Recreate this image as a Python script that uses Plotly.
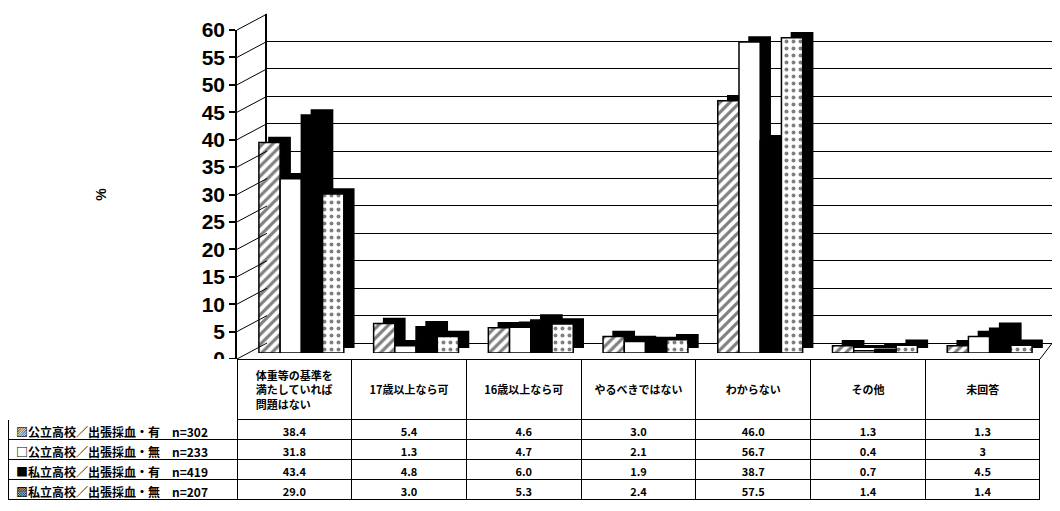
import plotly.graph_objects as go

# ---------------- data ----------------
categories = [
    "体重等の基準を<br>満たしていれば<br>問題はない",
    "17歳以上なら可",
    "16歳以上なら可",
    "やるべきではない",
    "わからない",
    "その他",
    "未回答",
]
series_names = [
    "公立高校／出張採血・有　n=302",
    "公立高校／出張採血・無　n=233",
    "私立高校／出張採血・有　n=419",
    "私立高校／出張採血・無　n=207",
]
legend_marks = ["▨", "□", "■", "▩"]
pub_yes = [38.4, 5.4, 4.6, 3.0, 46.0, 1.3, 1.3]
pub_no = [31.8, 1.3, 4.7, 2.1, 56.7, 0.4, 3]
pri_yes = [43.4, 4.8, 6.0, 1.9, 38.7, 0.7, 4.5]
pri_no = [29.0, 3.0, 5.3, 2.4, 57.5, 1.4, 1.4]
y_ticks = list(range(0, 61, 5))

series = [pub_yes, pub_no, pri_yes, pri_no]

# ---------------- geometry helpers ----------------
# the page body keeps the browser's default 8px margin, so the figure is
# sized to the remaining viewport and screen positions are converted.
VIEW_W, VIEW_H = 1060, 511
OFF = 8
W, H = VIEW_W - OFF, VIEW_H - OFF
YMAX = 60


def px(a):
    return (a - OFF) / W


def py(b):
    return (H - (b - OFF)) / H


def xd(a, b):
    return [max(px(a), 0.0), min(px(b), 1.0)]


def yd(bottom_px, top_px):
    return [max(py(bottom_px), 0.0), min(py(top_px), 1.0)]


front_x, front_y = (237, 1040), (359, 30)
bars_x, bars_y = (244, 1047), (353, 24)
shad_x, shad_y = (254, 1057), (348, 19)
back_x, back_y = (267, 1060), (343, 14)

styles = [
    dict(color="white", pattern=dict(shape="/", fgcolor="black", bgcolor="white", size=7, solidity=0.45)),
    dict(color="white"),
    dict(color="black"),
    dict(color="white", pattern=dict(shape=".", fgcolor="black", bgcolor="white", size=7, solidity=0.25)),
]

fig = go.Figure()

# back wall (gridlines) - subplot xy
fig.add_trace(go.Scatter(x=categories, y=[None] * len(categories), xaxis="x", yaxis="y",
                         showlegend=False, hoverinfo="skip"))

# bar depth (shadow) - subplot x2y2
for name, vals in zip(series_names, series):
    fig.add_trace(go.Bar(x=categories, y=vals, xaxis="x2", yaxis="y2", name=name,
                         marker=dict(color="black", line=dict(color="black", width=1.5)),
                         showlegend=False, hoverinfo="skip"))

# bar fronts - subplot x3y3
for name, vals, st in zip(series_names, series, styles):
    fig.add_trace(go.Bar(x=categories, y=vals, xaxis="x3", yaxis="y3", name=name,
                         marker=dict(line=dict(color="black", width=1.5), **st),
                         showlegend=False))

# front frame with ticks - subplot x4y4
fig.add_trace(go.Scatter(x=categories, y=[None] * len(categories), xaxis="x4", yaxis="y4",
                         showlegend=False, hoverinfo="skip"))


def fmt(v):
    return str(v) if isinstance(v, int) else f"{v:.1f}"


row_heads = [f"{m}{n}" for m, n in zip(legend_marks, series_names)]
header_labels = [""] + [c if "<br>" in c else "\u00a0<br>" + c for c in categories]
cell_cols = [row_heads] + [[fmt(s[i]) for s in series] for i in range(len(categories))]

fig.add_trace(go.Table(
    domain=dict(x=xd(0, front_x[1]), y=yd(506, front_y[0])),
    columnwidth=[front_x[0] - OFF] + [(front_x[1] - front_x[0]) / 7] * 7,
    header=dict(values=header_labels,
                align=["left"] + ["center"] * 7,
                height=58,
                fill_color="white",
                line=dict(color=["white"] + ["black"] * 7, width=1),
                font=dict(family="Noto Sans CJK JP", size=11, color="black", weight="bold")),
    cells=dict(values=cell_cols,
               align=["left"] + ["center"] * 7,
               height=20,
               fill_color="white",
               line=dict(color="black", width=1),
               font=dict(family="Noto Sans CJK JP", size=[12] + [11] * 7, color="black", weight="bold")),
))

common_x = dict(type="category", showticklabels=False, ticks="", showgrid=False, zeroline=False,
                automargin=False)
common_y = dict(range=[0, YMAX], zeroline=False, automargin=False)

shapes = []
# slanted side-wall lines joining front ticks to back wall
for v in y_ticks:
    yf = py(front_y[0] - (front_y[0] - front_y[1]) * v / YMAX)
    yb = py(back_y[0] - (back_y[0] - back_y[1]) * v / YMAX)
    shapes.append(dict(type="line", xref="paper", yref="paper",
                       x0=px(front_x[0]), y0=yf, x1=px(back_x[0]), y1=yb,
                       line=dict(color="black", width=1)))
# floor right edge
shapes.append(dict(type="line", xref="paper", yref="paper",
                   x0=px(front_x[1]), y0=py(front_y[0]), x1=1.0, y1=py(back_y[0] - 10),
                   line=dict(color="black", width=1)))

fig.update_layout(
    width=W, height=H,
    margin=dict(l=0, r=0, t=0, b=0, pad=0, autoexpand=False),
    paper_bgcolor="white",
    plot_bgcolor="rgba(0,0,0,0)",
    barmode="group", bargap=0.26, bargroupgap=0,
    showlegend=False,
    shapes=shapes,
    font=dict(family="Liberation Sans", color="black"),
    # back wall
    xaxis=dict(domain=xd(*back_x), anchor="y", showline=True, linecolor="black", linewidth=1, **common_x),
    yaxis=dict(domain=yd(*back_y), anchor="x", showticklabels=False, ticks="",
               showgrid=True, gridcolor="black", gridwidth=1, tickvals=y_ticks,
               showline=True, linecolor="black", linewidth=1.5, **common_y),
    # shadow
    xaxis2=dict(domain=xd(*shad_x), anchor="y2", showline=False, **common_x),
    yaxis2=dict(domain=yd(*shad_y), anchor="x2", showticklabels=False, ticks="", showgrid=False,
                showline=False, **common_y),
    # bar fronts
    xaxis3=dict(domain=xd(*bars_x), anchor="y3", showline=False, **common_x),
    yaxis3=dict(domain=yd(*bars_y), anchor="x3", showticklabels=False, ticks="", showgrid=False,
                showline=False, **common_y),
    # front frame with tick labels
    xaxis4=dict(domain=xd(*front_x), anchor="y4", showline=True, linecolor="black", linewidth=1.5, **common_x),
    yaxis4=dict(domain=yd(*front_y), anchor="x4", showgrid=False, tickvals=y_ticks,
                ticks="outside", ticklen=6, tickcolor="black", tickwidth=1.5,
                showline=True, linecolor="black", linewidth=1.5,
                tickfont=dict(family="Liberation Sans", size=21, color="black", weight="bold"),
                title=dict(text="%", standoff=92,
                           font=dict(family="Liberation Sans", size=14, color="black", weight="bold")),
                **common_y),
)

fig.write_html("out.html")
